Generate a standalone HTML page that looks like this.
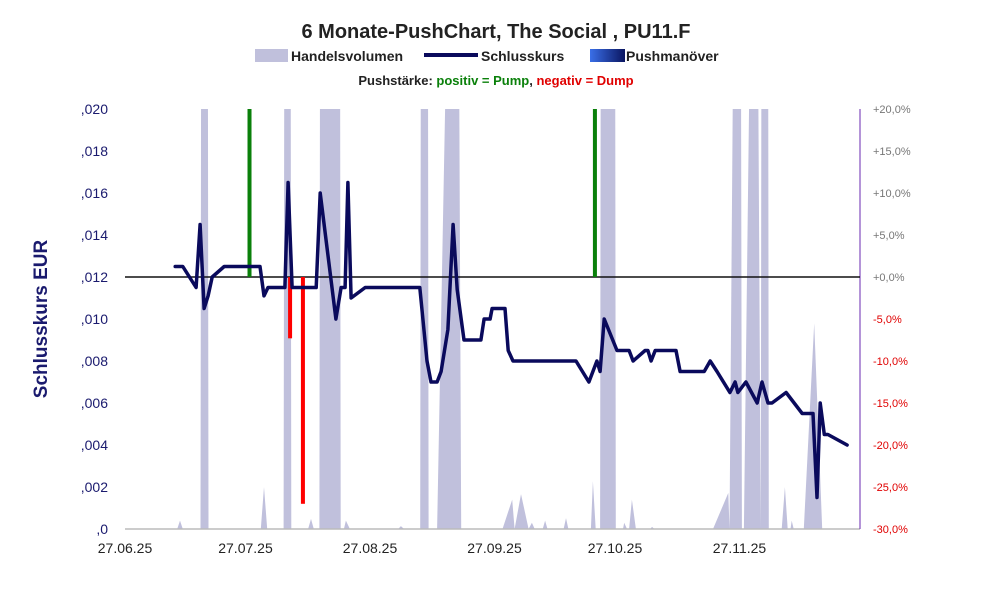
<!DOCTYPE html>
<html><head><meta charset="utf-8"><style>
body{margin:0;background:#fff;font-family:"Liberation Sans",sans-serif}
svg text{font-family:"Liberation Sans",sans-serif}
</style></head><body>
<svg id="c" width="991" height="593" xmlns="http://www.w3.org/2000/svg">
<defs><linearGradient id="pg" x1="0" x2="1"><stop offset="0" stop-color="#3a6fe8"/><stop offset="1" stop-color="#0a1560"/></linearGradient>
<clipPath id="pc"><rect x="125" y="109" width="735" height="420"/></clipPath></defs>
<text x="496" y="38" text-anchor="middle" font-size="20" font-weight="bold" fill="#222">6 Monate-PushChart, The Social , PU11.F</text>
<g>
<rect x="255" y="49" width="33" height="13" fill="#c0c0dc"/>
<text x="291" y="61" font-size="14" font-weight="bold" fill="#222">Handelsvolumen</text>
<line x1="424" y1="55" x2="478" y2="55" stroke="#0a0a5c" stroke-width="4"/>
<text x="481" y="61" font-size="14" font-weight="bold" fill="#222">Schlusskurs</text>
<rect x="590" y="49" width="35" height="13" fill="url(#pg)"/>
<text x="626" y="61" font-size="14" font-weight="bold" fill="#222">Pushmanöver</text>
<text x="496" y="85" text-anchor="middle" font-size="13" font-weight="bold"><tspan fill="#222">Pushstärke:  </tspan><tspan fill="#0a800a">positiv = Pump</tspan><tspan fill="#222">,  </tspan><tspan fill="#e00000">negativ = Dump</tspan></text>
</g>
<text transform="translate(47,319) rotate(-90)" text-anchor="middle" font-size="19" font-weight="bold" fill="#1a1a6e">Schlusskurs EUR</text>
<g id="vol" clip-path="url(#pc)"></g>
<g id="axes"></g>
<g id="push"></g>
<g id="line"></g>
</svg>
<script>
const priceDays=[12.5,14.4,17.7,18.7,19.7,20.7,21.7,24.7,33.6,34.6,35.6,39.8,40.6,41.6,47.6,48.6,52.5,53.8,54.8,55.5,56.3,59.8,73.4,75.2,76.2,77.7,78.7,80.4,81.7,82.7,84.4,84.9,88.6,89.4,90.9,91.4,94.6,95.4,96.6,112.3,115.5,117.5,118.3,119.3,122.5,125.5,126.5,129.5,130.2,131,132,137.2,138.2,144.2,145.7,147.4,150.6,151.9,152.6,154.6,157.4,158.6,160.1,161.1,164.6,168.6,171.3,172.3,173.1,174.1,175,179.8];
const priceVals=[0.0125,0.0125,0.0115,0.0145,0.0105,0.0111,0.012,0.0125,0.0125,0.0111,0.0115,0.0115,0.0165,0.0115,0.0115,0.016,0.01,0.0115,0.0115,0.0165,0.011,0.0115,0.0115,0.008,0.007,0.007,0.0075,0.0095,0.0145,0.0114,0.009,0.009,0.009,0.01,0.01,0.0105,0.0105,0.0085,0.008,0.008,0.007,0.008,0.0075,0.01,0.0085,0.0085,0.008,0.0085,0.0085,0.008,0.0085,0.0085,0.0075,0.0075,0.008,0.0075,0.0065,0.007,0.0065,0.007,0.006,0.007,0.006,0.006,0.0065,0.0055,0.0055,0.0015,0.006,0.0045,0.0045,0.004,0.004];
const volDays=[0,13,13.7,14.4,18.8,19,20.6,20.8,33.8,34.6,35.4,39.5,39.7,41.2,41.4,45.6,46.3,47,48.4,48.6,53.5,53.7,54.5,55,56,68,68.7,69.5,73.5,73.7,75.4,75.6,77.7,80.7,83,83.7,94,96.4,97,98.6,100.5,101.3,102,104,104.6,105.2,109.2,109.8,110.4,116,116.5,117.2,118.3,118.5,122,122.2,124,124.3,125,125.5,126.2,127.2,130.8,131.2,131.8,146.4,150.2,150.5,151.7,153.3,153.6,154.1,156,157.4,158.3,158.5,160.1,160.3,163.5,164.3,165,165.7,166,166.5,169,171.6,173.6,183];
const volVals=[0,0,2,0,0,150,150,0,0,10,0,0,150,150,0,0,2.4,0,0,150,150,0,0,2,0,0,0.7,0,0,150,150,0,0,150,150,0,0,7,0,8.3,0,1.5,0,0,2,0,0,2.6,0,0,11.4,0,0,150,150,0,0,1.5,0,0,7,0,0,0.5,0,0,8.6,0,150,150,0,0,150,150,0,150,150,0,0,10,0,0,2,0,0,49,0,0];
const pushDays=[31,41.1,44.3,117];
const pushVals=[20,-7.3,-27,20];
const yTicks=[0,0.002,0.004,0.006,0.008,0.010,0.012,0.014,0.016,0.018,0.020];
const yTickLabels=[",0",",002",",004",",006",",008",",010",",012",",014",",016",",018",",020"];
const rTicks=[20,15,10,5,0,-5,-10,-15,-20,-25,-30];
const xTickDays=[0,30,61,92,122,153];
const xTickLabels=["27.06.25","27.07.25","27.08.25","27.09.25","27.10.25","27.11.25"];
const X0=125,X1=860,Y0=529,Y1=109,DAYS=183;
const xs=d=>X0+d*(X1-X0)/DAYS;
const yL=v=>Y0-v/0.020*(Y0-Y1);
const yR=p=>Y0-(p+30)/50*(Y0-Y1);
const yV=v=>Y0-v/100*(Y0-Y1);
const NS="http://www.w3.org/2000/svg";
function mk(parent,tag,attrs,txt){const e=document.createElementNS(NS,tag);for(const k in attrs)e.setAttribute(k,attrs[k]);if(txt!==undefined)e.textContent=txt;document.getElementById(parent).appendChild(e);return e;}
let vp=`M${xs(volDays[0])},${Y0}`;
volDays.forEach((d,i)=>{vp+=` L${xs(d).toFixed(1)},${yV(volVals[i]).toFixed(1)}`;});
vp+=` L${xs(volDays[volDays.length-1])},${Y0} Z`;
let ve=mk('vol','path',{d:vp,fill:'#c0c0dc'});


let a=mk('axes','line',{x1:X0,y1:Y0,x2:X1,y2:Y0,stroke:'#bbb','stroke-width':1.5});


let ra=mk('axes','line',{x1:X1,y1:Y1,x2:X1,y2:Y0,stroke:'#6a2ab0','stroke-width':1});


yTicks.forEach((v,i)=>{let t=mk('axes','text',{x:108,y:yL(v)+5,'text-anchor':'end','font-size':14,fill:'#1a1a6e'},yTickLabels[i]);

});
rTicks.forEach(p=>{let t=mk('axes','text',{x:873,y:yR(p)+4,'font-size':11,fill:p<0?'#e00000':'#777'},(p>0?'+':p<0?'-':'+')+Math.abs(p).toFixed(1).replace('.',',')+'%');

});
xTickDays.forEach((d,i)=>{let t=mk('axes','text',{x:xs(d),y:553,'text-anchor':'middle','font-size':14,fill:'#222'},xTickLabels[i]);

});
let z=mk('axes','line',{x1:X0,y1:yR(0),x2:X1,y2:yR(0),stroke:'#111','stroke-width':1.5});


pushDays.forEach((d,i)=>{const v=pushVals[i];let b=mk('push','rect',{x:xs(d)-2,y:Math.min(yR(0),yR(v)),width:4,height:Math.abs(yR(v)-yR(0)),fill:v>0?'#0a800a':'#ff0000'});

});
const pts=priceDays.map((d,i)=>xs(d).toFixed(1)+','+yL(priceVals[i]).toFixed(1)).join(' ');
let pl=mk('line','polyline',{points:pts,fill:'none',stroke:'#0a0a5c','stroke-width':3.5,'stroke-linejoin':'round','stroke-linecap':'round'});


</script>
</body></html>
